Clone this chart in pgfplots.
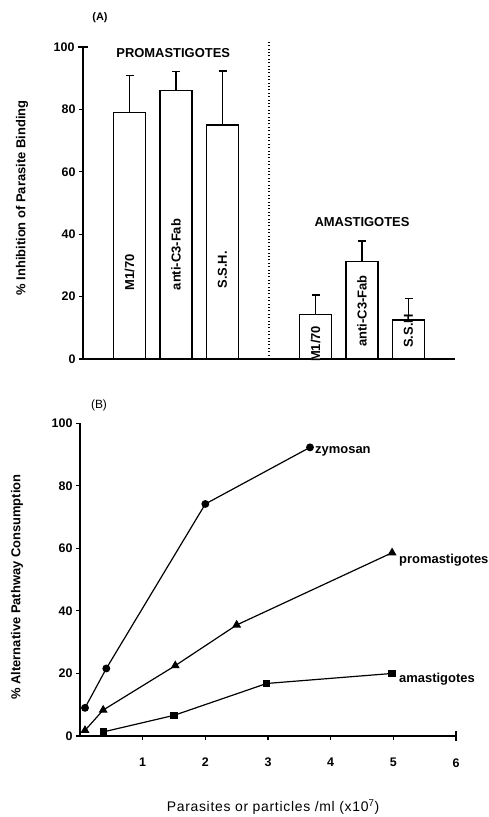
\documentclass[border=0pt]{standalone}
\usepackage{pgfplots}
\pgfplotsset{compat=1.18}
\usepackage{fontspec}
\setmainfont{Liberation Sans}
\newcommand{\lbl}{\fontsize{13}{15}\selectfont\bfseries}
\newcommand{\tck}{\fontsize{12.5}{14}\selectfont\bfseries}
\begin{document}
\begin{tikzpicture}[x=1bp,y=1bp]
\useasboundingbox (0,0) rectangle (489,817);
% ---------------- Panel A
\begin{axis}[
  at={(83bp,458bp)}, anchor=south west,
  scale only axis, width=372bp, height=312bp,
  xmin=0, xmax=8, ymin=0, ymax=100,
  enlargelimits=false,
  axis x line=bottom, axis y line=left,
  axis line style={line width=1.3bp, -},
  xtick=\empty,
  ytick={0,20,...,80},
  extra y ticks={100}, extra y tick labels={100},
  extra y tick style={tick align=center, major tick length=10bp},
  tick align=outside,
  major tick length=4bp,
  tick style={black, line width=1.1bp},
  /pgf/number format/assume math mode=true,
  yticklabel style={font=\tck},
  ybar, bar width=0.69,
  clip=false,
]
\addplot[fill=white, draw=black, line width=1.3bp,
  error bars/.cd, y dir=plus, y explicit,
  error bar style={line width=1.1bp},
  error mark options={rotate=90, mark size=4bp, line width=1.1bp}]
  table[x=x, y=y, y error=e] {
  x y e
  1 79 12
  2 86 6
  3 75 17.3
  5 14.3 6.2
  6 31.2 6.6
  7 12.5 6.9
  };
\draw[line width=1.2bp, dash pattern=on 1bp off 2.4bp] (axis cs:4,0) -- (axis cs:4,101.5);
\node[font=\lbl] at (axis cs:1.94,98) {PROMASTIGOTES};
\node[font=\lbl] at (axis cs:6,44) {AMASTIGOTES};
\node[font=\lbl, rotate=90, anchor=west, inner sep=0pt] at (axis cs:1,22) {M1/70};
\node[font=\lbl, rotate=90, anchor=west, inner sep=0pt] at (axis cs:2,22) {anti-C3-Fab};
\node[font=\lbl, rotate=90, anchor=west, inner sep=0pt] at (axis cs:3,22.5) {S.S.H.};
\node[font=\lbl, rotate=90, anchor=west, inner sep=0pt, fill=white] at (axis cs:5,-1) {M1/70};
\node[font=\lbl, rotate=90, anchor=west, inner sep=0pt] at (axis cs:6,3.9) {anti-C3-Fab};
\node[font=\lbl, rotate=90, anchor=west, inner sep=0pt] at (axis cs:7,3.5) {S.S.H};
\end{axis}
% ---------------- Panel B
\begin{axis}[
  at={(80bp,81bp)}, anchor=south west,
  scale only axis, width=376bp, height=312.7bp,
  xmin=0, xmax=6, ymin=0, ymax=100,
  enlargelimits=false,
  axis x line=bottom, axis y line=left,
  axis line style={line width=1.3bp, -},
  xtick={1,2,3,4,5},
  extra x ticks={6}, extra x tick labels={6},
  extra x tick style={tick align=center, major tick length=10bp},
  ytick={0,20,...,100},
  tick align=outside,
  major tick length=4bp,
  tick style={black, line width=1.1bp},
  /pgf/number format/assume math mode=true,
  yticklabel style={font=\tck},
  xticklabel style={font=\tck, yshift=-14.5bp},
  clip=false,
]
\addplot[black, line width=1.2bp, mark=*, mark size=3.3bp] coordinates {
  (0.08,9) (0.42,21.6) (2.0,74.2) (3.67,92.3)};
\addplot[black, line width=1.2bp, mark=triangle*, mark size=4bp] coordinates {
  (0.08,1.8) (0.37,8.3) (1.52,22.5) (2.5,35.5) (4.98,58.6)};
\addplot[black, line width=1.2bp, mark=square*, mark size=3bp] coordinates {
  (0.37,1.3) (1.5,6.6) (2.98,16.8) (4.98,20)};
\node[font=\lbl, anchor=west, inner sep=0pt] at (axis cs:3.75,91) {zymosan};
\node[font=\lbl, anchor=west, inner sep=0pt] at (axis cs:5.09,56.3) {promastigotes};
\node[font=\lbl, anchor=west, inner sep=0pt] at (axis cs:5.09,18.2) {amastigotes};
\end{axis}
% ---------------- Texts
\node[font=\lbl, rotate=90] at (22,619) {\% Inhibition of Parasite Binding};
\node[font=\lbl, rotate=90] at (17,230) {\% Alternative Pathway Consumption};
\node[font=\fontsize{11}{13}\selectfont\bfseries] at (100,799) {(A)};
\node[font=\fontsize{12}{14}\selectfont] at (99,412) {(B)};
\node[font=\fontsize{14}{16}\selectfont\addfontfeature{LetterSpace=5}] at (273,10) {Parasites or particles /ml (x10\textsuperscript{7})};
\end{tikzpicture}
\end{document}
